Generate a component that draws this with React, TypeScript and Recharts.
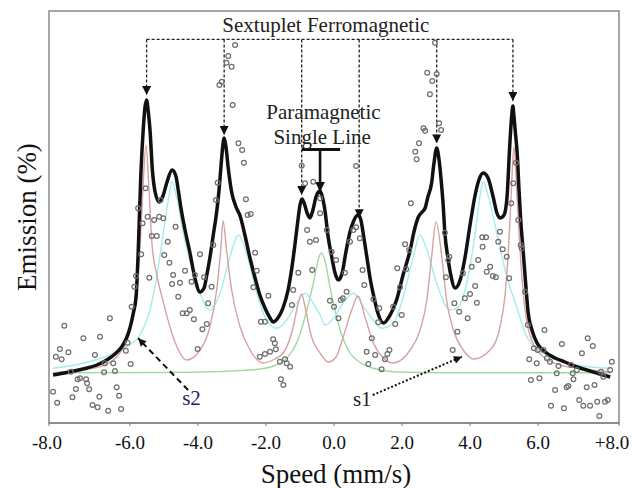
import React from 'react';
import {
  ComposedChart,
  Line,
  Scatter,
  XAxis,
  YAxis,
  ReferenceLine,
  ReferenceDot,
  ReferenceArea,
  Label,
} from 'recharts';

const FONT = "'Liberation Serif', 'Times New Roman', serif";

// ---------- axes ----------
const xDomain: [number, number] = [-8.38, 8.38];
const yDomain: [number, number] = [0, 103];
const tickValues = [-8.38, -6, -4, -2, 0, 2, 4, 6, 8.38];
const tickLabels = ['-8.0', '-6.0', '-4.0', '-2.0', '0.0', '2.0', '4.0', '6.0', '+8.0'];
const X_TITLE = 'Speed (mm/s)';
const Y_TITLE = 'Emission (%)';

// ---------- fitted curves: [speed mm/s, emission] ----------
const totalFit: [number, number][] = [
  [-8.26, 12.0], [-7.85, 12.63], [-7.38, 13.5], [-6.97, 14.5], [-6.68, 15.75], [-6.44, 17.25],
  [-6.24, 19.08], [-6.1, 21.25], [-6.0, 23.75], [-5.9, 27.5], [-5.82, 31.5], [-5.76, 42.0],
  [-5.68, 62.0], [-5.61, 73.25], [-5.56, 78.75], [-5.51, 80.75], [-5.46, 77.75], [-5.41, 73.25],
  [-5.34, 63.25], [-5.26, 57.75], [-5.14, 55.25], [-5.03, 56.75], [-4.91, 60.25], [-4.76, 63.25],
  [-4.65, 61.75], [-4.58, 58.25], [-4.5, 53.75], [-4.38, 48.25], [-4.24, 42.75], [-4.09, 36.25],
  [-3.94, 32.75], [-3.82, 33.75], [-3.74, 37.0], [-3.65, 41.25], [-3.55, 47.0], [-3.45, 52.75],
  [-3.38, 58.25], [-3.32, 64.5], [-3.27, 69.25], [-3.23, 71.25], [-3.18, 69.25], [-3.11, 63.75],
  [-3.01, 57.75], [-2.88, 54.0], [-2.76, 51.75], [-2.62, 47.0], [-2.47, 41.25], [-2.32, 36.25],
  [-2.18, 32.0], [-2.03, 28.75], [-1.88, 26.25], [-1.79, 25.25], [-1.65, 26.25], [-1.5, 28.75],
  [-1.35, 33.25], [-1.24, 38.75], [-1.15, 44.5], [-1.06, 50.75], [-1.0, 54.5], [-0.94, 56.0],
  [-0.88, 55.0], [-0.79, 52.5], [-0.71, 51.25], [-0.62, 53.25], [-0.53, 56.5], [-0.46, 57.75],
  [-0.41, 58.0], [-0.35, 56.75], [-0.26, 52.75], [-0.18, 47.0], [-0.06, 41.25], [0.03, 37.5],
  [0.13, 35.75], [0.24, 37.5], [0.35, 42.75], [0.47, 47.75], [0.59, 50.75], [0.71, 52.0],
  [0.79, 50.75], [0.88, 46.25], [0.97, 41.25], [1.06, 36.25], [1.18, 31.25], [1.29, 27.5],
  [1.45, 25.0], [1.65, 27.0], [1.84, 30.75], [2.03, 37.0], [2.24, 43.25], [2.35, 47.75],
  [2.48, 51.5], [2.59, 52.75], [2.68, 53.75], [2.76, 56.5], [2.87, 60.0], [2.94, 65.0],
  [3.02, 68.75], [3.09, 65.75], [3.15, 60.75], [3.21, 54.5], [3.26, 47.5], [3.35, 41.25],
  [3.44, 36.75], [3.56, 33.75], [3.71, 35.75], [3.85, 41.25], [4.0, 49.5], [4.15, 57.0],
  [4.26, 60.75], [4.39, 62.5], [4.53, 61.25], [4.68, 56.5], [4.79, 52.5], [4.88, 51.25],
  [5.0, 52.0], [5.09, 56.75], [5.16, 68.25], [5.22, 76.25], [5.26, 79.25], [5.29, 76.75],
  [5.34, 72.0], [5.39, 67.0], [5.44, 58.25], [5.49, 50.75], [5.56, 43.25], [5.65, 33.25],
  [5.71, 27.5], [5.82, 23.25], [5.97, 20.0], [6.21, 17.75], [6.5, 16.25], [6.79, 15.25],
  [7.15, 14.0], [7.53, 13.0], [7.82, 12.25], [8.12, 11.5],
];

const sextetS1: [number, number][] = [
  [-8.26, 12.58], [-7.47, 13.25], [-6.88, 14.08], [-6.39, 16.58], [-6.05, 21.58], [-5.85, 30.75],
  [-5.71, 43.25], [-5.62, 58.25], [-5.53, 69.5], [-5.44, 58.25], [-5.35, 44.5], [-5.21, 37.0],
  [-5.02, 30.25], [-4.73, 21.5], [-4.33, 15.75], [-3.94, 18.25], [-3.65, 24.0], [-3.45, 33.25],
  [-3.33, 43.25], [-3.26, 50.5], [-3.16, 43.25], [-3.01, 33.25], [-2.76, 24.0], [-2.47, 18.25],
  [-2.08, 15.0], [-1.74, 16.0], [-1.49, 17.5], [-1.2, 24.0], [-1.05, 30.0], [-0.95, 32.25],
  [-0.85, 29.0], [-0.66, 21.5], [-0.41, 17.5], [-0.17, 15.25], [0.06, 16.5], [0.27, 21.5],
  [0.52, 28.25], [0.71, 31.75], [0.91, 26.5], [1.16, 20.0], [1.45, 16.25], [1.74, 15.0],
  [2.24, 18.25], [2.53, 23.25], [2.73, 30.75], [2.87, 41.5], [3.0, 50.25], [3.17, 41.5],
  [3.31, 30.75], [3.51, 23.25], [3.8, 18.25], [4.1, 16.0], [4.59, 18.25], [4.88, 24.0],
  [5.03, 32.0], [5.12, 42.0], [5.21, 57.0], [5.29, 69.0], [5.38, 57.0], [5.47, 43.25],
  [5.57, 32.0], [5.76, 22.0], [6.16, 16.5], [6.65, 14.5], [7.14, 13.75], [8.12, 12.75],
];

const sextetS2: [number, number][] = [
  [-8.26, 13.68], [-7.37, 14.93], [-6.59, 17.0], [-6.1, 19.08], [-5.71, 22.0], [-5.41, 28.25],
  [-5.21, 36.58], [-5.02, 47.43], [-4.87, 55.75], [-4.76, 60.33], [-4.63, 56.58], [-4.43, 47.43],
  [-4.19, 39.08], [-3.94, 32.43], [-3.65, 28.25], [-3.35, 32.43], [-3.06, 41.58], [-2.81, 47.0],
  [-2.57, 42.43], [-2.27, 32.43], [-1.98, 25.75], [-1.69, 23.68], [-1.39, 25.75], [-1.1, 29.93],
  [-0.85, 32.43], [-0.61, 29.93], [-0.41, 27.0], [-0.26, 24.5], [-0.02, 26.18], [0.27, 29.93],
  [0.57, 32.43], [0.86, 29.08], [1.16, 25.75], [1.4, 23.68], [1.74, 24.93], [2.09, 33.25],
  [2.33, 41.58], [2.53, 47.0], [2.73, 43.25], [3.02, 34.93], [3.41, 28.25], [3.66, 29.08],
  [3.9, 34.93], [4.15, 47.43], [4.29, 56.58], [4.39, 60.33], [4.54, 56.58], [4.79, 47.43],
  [5.08, 36.58], [5.37, 29.08], [5.67, 21.58], [6.16, 17.43], [7.14, 14.5], [8.12, 13.68],
];

const singlet: [number, number][] = [
  [-8.26, 12.58], [-5.41, 12.63], [-3.94, 12.75], [-2.76, 13.13], [-2.18, 13.5], [-1.74, 14.38],
  [-1.44, 15.75], [-1.21, 18.25], [-1.06, 20.75], [-0.91, 24.75], [-0.76, 29.5], [-0.62, 34.5],
  [-0.5, 39.5], [-0.43, 41.75], [-0.37, 42.5], [-0.31, 41.75], [-0.22, 38.75], [-0.12, 34.0],
  [0.03, 28.25], [0.18, 23.25], [0.32, 20.0], [0.47, 17.5], [0.71, 15.5], [0.97, 14.25],
  [1.35, 13.25], [1.94, 12.75], [3.12, 12.58], [8.15, 12.58],
];

// ---------- measured points ----------
const measured: [number, number][] = [
  [-8.26, 7.83], [-8.14, 5.08], [-8.18, 16.58], [-8.06, 18.5], [-8.01, 15.93], [-7.93, 24.33],
  [-7.81, 17.68], [-7.74, 12.83], [-7.69, 6.43], [-7.59, 8.5], [-7.54, 10.93], [-7.47, 11.18],
  [-7.37, 21.18], [-7.29, 10.93], [-7.26, 9.93], [-7.2, 8.43], [-7.1, 4.5], [-7.03, 17.0],
  [-6.95, 3.93], [-6.9, 6.58], [-6.88, 21.58], [-6.76, 12.68], [-6.74, 14.93], [-6.64, 3.08],
  [-6.59, 26.18], [-6.49, 14.93], [-6.44, 13.0], [-6.39, 8.93], [-6.32, 6.83], [-6.26, 3.5],
  [-6.12, 18.08], [-6.07, 20.08], [-5.98, 14.75], [-5.95, 29.08],
  [-5.87, 34.08], [-5.82, 36.75], [-5.76, 53.68], [-5.67, 42.18], [-5.63, 49.93], [-5.54, 58.68],
  [-5.48, 51.58], [-5.43, 36.33], [-5.36, 46.75], [-5.29, 50.75], [-5.21, 46.75], [-5.14, 51.58],
  [-5.1, 55.75], [-5.02, 51.18], [-4.99, 42.0], [-4.89, 45.33], [-4.84, 40.08], [-4.76, 34.75],
  [-4.73, 37.0], [-4.66, 49.08], [-4.58, 31.58], [-4.53, 35.08], [-4.45, 27.43], [-4.38, 38.08],
  [-4.33, 27.43], [-4.24, 28.25], [-4.19, 35.33], [-4.12, 25.93], [-4.09, 37.0], [-4.01, 18.5],
  [-3.94, 42.18], [-3.87, 23.43], [-3.82, 36.43], [-3.74, 24.75], [-3.7, 29.93], [-3.6, 34.08],
  [-3.55, 44.5], [-3.47, 55.75], [-3.42, 60.08], [-3.37, 84.5], [-3.3, 85.33], [-3.16, 90.08],
  [-3.11, 91.75], [-3.01, 89.08], [-2.98, 79.5], [-2.91, 94.5], [-2.81, 69.93], [-2.7, 68.25],
  [-2.65, 65.08], [-2.59, 55.93], [-2.54, 52.0], [-2.45, 52.25], [-2.32, 42.58], [-2.27, 38.08],
  [-2.37, 33.93], [-1.93, 31.83], [-2.15, 25.33], [-2.03, 25.33], [-1.79, 20.93], [-1.74, 19.93],
  [-1.71, 18.43], [-2.18, 16.58], [-2.03, 17.25], [-1.88, 17.83], [-1.59, 15.33], [-1.44, 15.93],
  [-1.39, 14.93], [-1.29, 14.08], [-1.56, 10.93], [-1.49, 9.5], [-1.2, 33.25], [-1.24, 29.5],
  [-1.05, 37.58], [-0.95, 64.33], [-0.85, 59.93], [-0.79, 48.25], [-0.71, 45.33], [-0.53, 45.75],
  [-0.61, 60.33], [-0.64, 38.25], [-0.41, 52.43], [-0.41, 56.18],
  [-0.21, 48.25], [-0.07, 42.83], [0.06, 40.75], [-0.12, 30.58], [0.0, 29.08], [0.13, 26.18],
  [0.2, 30.75], [0.26, 31.18], [0.37, 32.83], [0.32, 37.58], [0.47, 45.33], [0.57, 48.25],
  [0.65, 48.93], [0.76, 46.18], [0.65, 64.25], [0.84, 38.25], [0.89, 34.5], [1.16, 30.93],
  [1.11, 21.18], [0.96, 17.83], [1.21, 17.0], [1.01, 14.75], [1.33, 28.68], [1.3, 25.18],
  [1.63, 18.25], [1.57, 17.25], [1.5, 15.93], [1.4, 13.43], [1.74, 29.08], [1.8, 24.75],
  [1.86, 38.68], [1.94, 33.93], [1.99, 27.0], [2.12, 38.43], [2.09, 44.68], [2.21, 43.25],
  [2.26, 54.93], [2.39, 67.83], [2.43, 65.93], [2.5, 69.93], [2.63, 73.68], [2.68, 73.08],
  [2.82, 82.18], [2.89, 85.5], [2.74, 87.58], [3.02, 87.25], [2.97, 95.08], [3.09, 74.93],
  [3.15, 73.25],
  [3.26, 47.58], [3.29, 36.43], [3.39, 41.58], [3.36, 40.75], [3.54, 29.93], [3.68, 27.83],
  [3.79, 37.43], [3.63, 22.83], [3.49, 18.25], [3.85, 31.18], [3.93, 26.18], [4.05, 39.08],
  [4.0, 32.25], [4.15, 34.25], [4.2, 30.08], [4.24, 40.75], [4.36, 46.43], [4.47, 46.43],
  [4.37, 44.08], [4.49, 37.83], [4.59, 39.08], [4.67, 36.75], [4.76, 36.43], [4.83, 45.33],
  [4.88, 47.83], [4.96, 43.43], [5.08, 41.58], [5.15, 36.18], [5.21, 54.93], [5.27, 59.93],
  [5.35, 65.08], [5.42, 50.75], [5.49, 44.5], [5.52, 43.68], [5.62, 32.83], [5.7, 24.5],
  [6.19, 23.25], [5.88, 18.68], [5.74, 15.93], [5.99, 18.25], [6.16, 18.25], [6.26, 16.18],
  [5.96, 14.93], [5.79, 10.75], [6.04, 11.18], [6.35, 15.33], [6.7, 19.75], [6.6, 14.25],
  [6.55, 12.43], [6.5, 8.25], [6.38, 4.33], [6.76, 3.68], [6.84, 8.93], [6.89, 9.25],
  [7.04, 10.93], [7.02, 12.43], [6.97, 14.5], [7.14, 13.25], [7.29, 17.43], [7.46, 21.18],
  [7.61, 19.25], [7.43, 8.93], [7.66, 9.5], [7.21, 5.75], [7.33, 4.33], [7.53, 4.33],
  [7.74, 5.33], [7.97, 5.33], [8.05, 5.75], [7.8, 1.75], [7.85, 12.83], [7.92, 11.58],
  [8.17, 15.33], [8.12, 13.25],
];

// ---------- annotations ----------
const TITLE_TEXT = 'Sextuplet Ferromagnetic';
const PARA_TEXT = ['Paramagnetic', 'Single Line'];
const titlePos = { x: -0.24, y: 99.5 };
const paraPos = [{ x: -0.31, y: 77.8 }, { x: -0.35, y: 71.6 }];
const bracketY = 95.9;
const sextetLineX = [-5.51, -3.23, -0.95, 0.74, 3.02, 5.26];
const sextetLineTip = [82.0, 72.0, 57.0, 51.2, 69.9, 80.5];
const tBar = { x1: -0.95, x2: 0.18, y: 68.4 };
const tStem = { x: -0.41, tip: 57.8 };
const s2Label = { text: 's2', x: -4.19, y: 6.18 };
const s1Label = { text: 's1', x: 0.83, y: 5.93 };
const s2Arrow = [{ x: -4.29, y: 8.25 }, { x: -5.76, y: 21.18 }];
const s1Arrow = [{ x: 1.14, y: 7.0 }, { x: 3.76, y: 16.58 }];

const toRows = (pairs: [number, number][]) => pairs.map(([s, v]) => ({ s, v }));
const fitRows = toRows(totalFit);
const s1Rows = toRows(sextetS1);
const s2Rows = toRows(sextetS2);
const singletRows = toRows(singlet);
const pointRows = toRows(measured);

const arrowLine = (marker: string, stroke: string, width: number, dash?: string) => (p: any) => (
  <line
    x1={p.x1}
    y1={p.y1}
    x2={p.x2}
    y2={p.y2}
    stroke={stroke}
    strokeWidth={width}
    strokeDasharray={dash}
    markerEnd={marker ? `url(#${marker})` : undefined}
  />
);

const textShape = (text: string, size: number, fill: string) => (p: any) => (
  <text
    x={p.cx}
    y={p.cy}
    textAnchor="middle"
    dominantBaseline="central"
    fontFamily={FONT}
    fontSize={size}
    fill={fill}
  >
    {text}
  </text>
);

const XTick = (props: any) => {
  const { x, y, payload } = props;
  const i = tickValues.indexOf(payload.value);
  const dx = i === 0 ? -2 : i === tickValues.length - 1 ? -7 : 0;
  return (
    <text
      x={x + dx}
      y={y + 14.5}
      textAnchor="middle"
      dominantBaseline="central"
      fontFamily={FONT}
      fontSize={19}
      fill="#111"
    >
      {tickLabels[i]}
    </text>
  );
};

const XTitle = (props: any) => {
  const vb = props.viewBox || { x: 0, y: 0, width: 0 };
  return (
    <text
      x={vb.x + vb.width / 2 + 2}
      y={vb.y + 51}
      textAnchor="middle"
      dominantBaseline="central"
      fontFamily={FONT}
      fontSize={27}
      fill="#111"
    >
      {X_TITLE}
    </text>
  );
};

const YTitle = (props: any) => {
  const vb = props.viewBox || { x: 0, y: 0, height: 0 };
  const cx = vb.x + 27;
  const cy = vb.y + vb.height / 2;
  return (
    <text
      x={cx}
      y={cy}
      transform={`rotate(-90 ${cx} ${cy})`}
      textAnchor="middle"
      dominantBaseline="central"
      fontFamily={FONT}
      fontSize={27}
      fill="#111"
    >
      {Y_TITLE}
    </text>
  );
};

const Ring = (p: any) => (
  <circle cx={p.cx} cy={p.cy} r={2.4} fill="none" stroke="#6e6e6e" strokeWidth={1.2} />
);

export default function App() {
  return (
    <div style={{ position: 'absolute', left: 0, top: 0, width: 632, height: 488, background: '#fff' }}>
      <svg width={0} height={0} style={{ position: 'absolute' }}>
        <defs>
          <marker id="headSmall" viewBox="0 0 10 10" refX="10" refY="5" markerWidth="9" markerHeight="9" orient="auto" markerUnits="userSpaceOnUse">
            <path d="M0,0 L10,5 L0,10 z" fill="#111" />
          </marker>
          <marker id="headBig" viewBox="0 0 10 10" refX="10" refY="5" markerWidth="10" markerHeight="11" orient="auto" markerUnits="userSpaceOnUse">
            <path d="M0,0 L10,5 L0,10 z" fill="#111" />
          </marker>
          <marker id="headMid" viewBox="0 0 10 10" refX="10" refY="5" markerWidth="9" markerHeight="8" orient="auto" markerUnits="userSpaceOnUse">
            <path d="M0,0 L10,5 L0,10 z" fill="#111" />
          </marker>
        </defs>
      </svg>
      <ComposedChart width={632} height={488} margin={{ top: 11, right: 13, bottom: 35, left: 0 }}>
        <XAxis
          type="number"
          dataKey="s"
          domain={xDomain}
          ticks={tickValues}
          tick={<XTick />}
          tickSize={3}
          tickMargin={2}
          height={30}
          stroke="#777"
          allowDataOverflow
          interval={0}
          label={<Label content={<XTitle />} />}
        />
        <YAxis
          type="number"
          dataKey="v"
          domain={yDomain}
          width={49}
          tick={false}
          axisLine={false}
          tickLine={false}
          allowDataOverflow
          label={<Label content={<YTitle />} />}
        />
        <ReferenceArea x1={xDomain[0]} x2={xDomain[1]} y1={yDomain[0]} y2={yDomain[1]} fill="none" stroke="#888" strokeWidth={1.5} ifOverflow="visible" />

        <Line data={singletRows} dataKey="v" type="monotone" stroke="#9edb9e" strokeWidth={1.4} dot={false} isAnimationActive={false} />
        <Line data={s2Rows} dataKey="v" type="monotone" stroke="#a6ecec" strokeWidth={1.4} dot={false} isAnimationActive={false} />
        <Line data={s1Rows} dataKey="v" type="monotone" stroke="#d6a2a2" strokeWidth={1.4} dot={false} isAnimationActive={false} />
        <Line data={fitRows} dataKey="v" type="monotone" stroke="#111" strokeWidth={3.5} dot={false} isAnimationActive={false} />
        <Scatter data={pointRows} dataKey="v" shape={<Ring />} isAnimationActive={false} />

        {/* Sextuplet bracket */}
        <ReferenceLine
          segment={[{ x: sextetLineX[0], y: bracketY }, { x: sextetLineX[sextetLineX.length - 1], y: bracketY }]}
          shape={arrowLine('', '#222', 1.3, '3 2')}
        />
        {sextetLineX.map((x, i) => (
          <ReferenceLine
            key={`sx${i}`}
            segment={[{ x, y: bracketY }, { x, y: sextetLineTip[i] }]}
            shape={arrowLine('headSmall', '#222', 1.3, '3 2')}
          />
        ))}

        {/* Paramagnetic T marker */}
        <ReferenceLine segment={[{ x: tBar.x1, y: tBar.y }, { x: tBar.x2, y: tBar.y }]} shape={arrowLine('', '#111', 3)} />
        <ReferenceLine segment={[{ x: tStem.x, y: tBar.y }, { x: tStem.x, y: tStem.tip }]} shape={arrowLine('headBig', '#111', 2.6)} />

        {/* s1 / s2 pointers */}
        <ReferenceLine segment={s2Arrow} shape={arrowLine('headMid', '#111', 2, '6 4')} />
        <ReferenceLine segment={s1Arrow} shape={arrowLine('headMid', '#111', 2, '2 2')} />

        {/* texts */}
        <ReferenceDot x={titlePos.x} y={titlePos.y} shape={textShape(TITLE_TEXT, 21, '#222')} />
        <ReferenceDot x={paraPos[0].x} y={paraPos[0].y} shape={textShape(PARA_TEXT[0], 21, '#222')} />
        <ReferenceDot x={paraPos[1].x} y={paraPos[1].y} shape={textShape(PARA_TEXT[1], 21, '#222')} />
        <ReferenceDot x={s2Label.x} y={s2Label.y} shape={textShape(s2Label.text, 21, '#1c2a55')} />
        <ReferenceDot x={s1Label.x} y={s1Label.y} shape={textShape(s1Label.text, 21, '#222')} />
      </ComposedChart>
    </div>
  );
}
